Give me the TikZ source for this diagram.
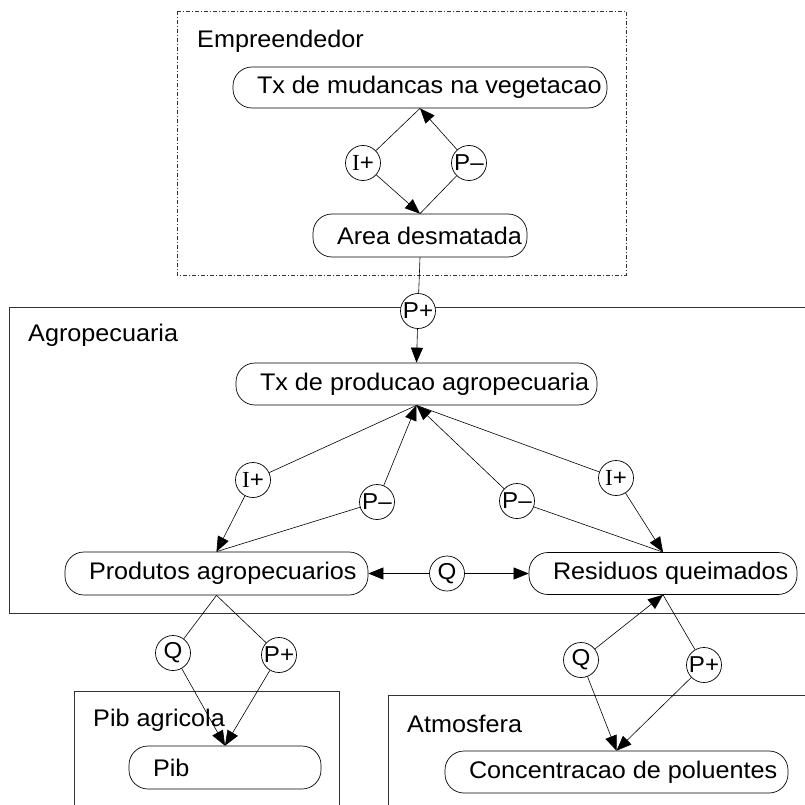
\documentclass[tikz,border=0pt]{standalone}
\usepackage{fontspec}
\setmainfont[FakeStretch=1.05]{Liberation Sans}
\newfontfamily\serI[FakeStretch=1.0]{Liberation Serif}
\usetikzlibrary{arrows.meta}
\newcommand{\btxt}[2]{\makebox[#1pt][l]{\hspace{22pt}#2}}
\tikzset{
  rbox/.style={draw, fill=white, rounded corners=19pt, inner xsep=2pt, inner ysep=0pt, line width=0.7pt, font=\fontsize{24}{27}\selectfont},
  cir/.style={draw, fill=white, circle, minimum size=35pt, inner sep=0pt, line width=0.7pt, font=\fontsize{23}{25}\selectfont},
  cont/.style={draw, line width=0.9pt, draw=black!80},
  lab/.style={anchor=west, inner sep=0pt, font=\fontsize{24}{27}\selectfont},
  ln/.style={line width=0.6pt},
  ar/.style={line width=0.6pt, -{Triangle[length=15pt,width=12pt]}}
}
\begin{document}
\begin{tikzpicture}[x=1pt,y=-1pt]
\useasboundingbox (0,0) rectangle (804,805);
% containers
\draw[cont, dash pattern=on 4pt off 2pt on 1pt off 2pt] (177,11) rectangle (626,275);
\draw[cont] (9.5,307) rectangle (830,613);
\draw[cont] (74,691) rectangle (339,830);
\draw[cont] (388,695) rectangle (830,830);
\node[lab] (lEmp) at (197,41) {Empreendedor};
\node[lab] (lAgr) at (28,335) {Agropecuaria};
\node[lab] (lPib) at (93,720) {Pib agricola};
\node[lab] (lAtm) at (407,724) {Atmosfera};
% boxes
\node[rbox, minimum height=41pt] (tx1) at (420,87.5) {\btxt{370}{Tx de mudancas na vegetacao}};
\node[rbox, minimum height=43pt] (area) at (420,235.5) {\btxt{210}{Area desmatada}};
\node[rbox, minimum height=42pt] (tx2) at (416.5,384) {\btxt{357}{Tx de producao agropecuaria}};
\node[rbox, minimum height=43pt] (prod) at (216.5,573.5) {\btxt{299}{Produtos agropecuarios}};
\node[rbox, minimum height=42pt] (resid) at (663,573.5) {\btxt{264}{Residuos queimados}};
\node[rbox, minimum height=43pt] (pib) at (225,767.5) {\btxt{188}{Pib}};
\node[rbox, minimum height=42pt] (conc) at (616.5,772) {\btxt{339}{Concentracao de poluentes}};
% circles
\node[cir] (eI) at (363,163) {{\serI I}+};
\node[cir] (eP) at (469,163) {P–};
\node[cir] (pp) at (418,311) {P+};
\node[cir] (aI) at (253,480) {{\serI I}+};
\node[cir] (aP1) at (377,502) {P–};
\node[cir] (aP2) at (517,501) {P–};
\node[cir] (aI2) at (616,478) {{\serI I}+};
\node[cir] (q) at (447,573.5) {Q};
\node[cir] (q2) at (173,653) {Q};
\node[cir] (p2) at (279,655) {P+};
\node[cir] (q3) at (581,660) {Q};
\node[cir] (p3) at (704,665) {P+};
% connectors
\draw[ln] (eI) -- (tx1.south);
\draw[ar] (eI) -- (area.north);
\draw[ln] (area.north) -- (eP);
\draw[ar] (eP) -- (tx1.south);
\draw[ln] (area.south) -- (pp);
\draw[ar] (pp) -- (tx2.north);
\draw[ln] (tx2.south) -- (aI);
\draw[ar] (aI) -- (prod.north);
\draw[ln] (prod.north) -- (aP1);
\draw[ar] (aP1) -- (tx2.south);
\draw[ln] (resid.north) -- (aP2);
\draw[ar] (aP2) -- (tx2.south);
\draw[ln] (tx2.south) -- (aI2);
\draw[ar] (aI2) -- (resid.north);
\draw[ar] (q) -- (prod.east);
\draw[ar] (q) -- (resid.west);
\draw[ln] (prod.south) -- (q2);
\draw[ar] (q2) -- (pib.north);
\draw[ln] (prod.south) -- (p2);
\draw[ar] (p2) -- (pib.north);
\draw[ar] (q3) -- (resid.south);
\draw[ar] (q3) -- (conc.north);
\draw[ln] (resid.south) -- (p3);
\draw[ar] (p3) -- (conc.north);
\end{tikzpicture}
\end{document}
